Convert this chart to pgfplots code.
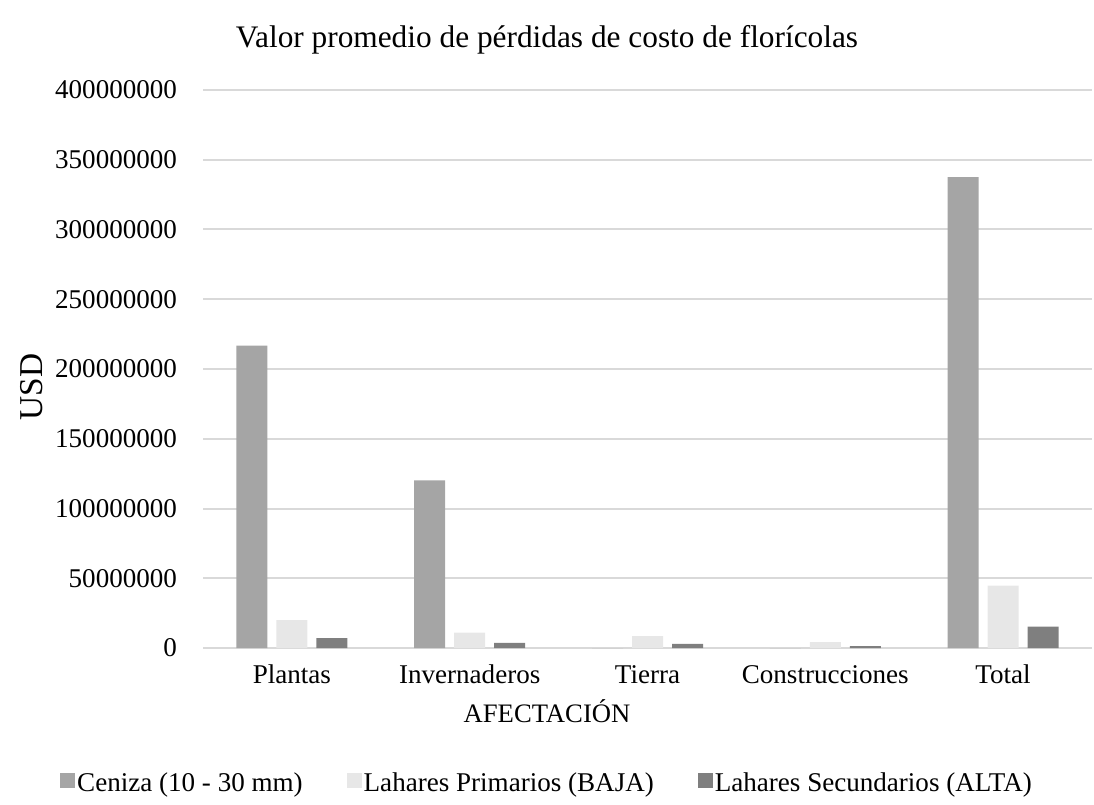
\documentclass[border=0pt]{standalone}
\usepackage{fontspec}
\setmainfont{Liberation Serif}
\usepackage{pgfplots}
\pgfplotsset{compat=1.18}
\definecolor{ceniza}{HTML}{A5A5A5}
\definecolor{primarios}{HTML}{E7E7E7}
\definecolor{secundarios}{HTML}{7F7F7F}
\definecolor{gridc}{HTML}{D9D9D9}
\begin{document}
\begin{tikzpicture}
\useasboundingbox (0,0) rectangle (820.5pt,603pt);
\begin{axis}[
  at={(152.25pt,117pt)}, anchor=south west,
  scale only axis, width=666.75pt, height=418.5pt,
  ybar=6.75pt, bar width=23.25pt,
  xmin=-0.5, xmax=4.5, ymin=0, ymax=400000000,
  xtick={0,1,2,3,4},
  xticklabels={Plantas,Invernaderos,Tierra,Construcciones,Total},
  ytick={0,50000000,100000000,150000000,200000000,250000000,300000000,350000000,400000000},
  scaled y ticks=false,
  /pgf/number format/fixed, /pgf/number format/1000 sep={},
  /pgf/number format/assume math mode=true,
  major tick length=0pt,
  axis line style={draw=none},
  ymajorgrids, grid style={gridc, line width=1.5pt},
  tick label style={font=\fontsize{20.3}{24}\selectfont},
  yticklabel style={xshift=-16pt},
  xticklabel style={anchor=north, text height=14pt, text depth=4pt, yshift=-9pt},
  title={Valor promedio de pérdidas de costo de florícolas},
  title style={font=\fontsize{23.5}{28}\selectfont, at={(0.387,1.0753)}, anchor=center},
  xlabel={AFECTACIÓN},
  xlabel style={font=\fontsize{20}{24}\selectfont, at={(0.387,-0.1129)}, anchor=center},
  ylabel={USD},
  ylabel style={font=\fontsize{25}{28}\selectfont, at={(-0.1924,0.4677)}, anchor=center, rotate=0},
  legend columns=3,
  legend style={draw=none, fill=none, at={(0.387,-0.242)}, anchor=center,
    font=\fontsize{20.3}{24}\selectfont,
    /tikz/every even column/.append style={column sep=31.5pt},
    nodes={inner sep=1.5pt}},
  legend image code/.code={\fill[#1] (0pt,-4pt) rectangle (11.25pt,7.25pt);},
]
\addplot[fill=ceniza, draw=none] coordinates {(0,216700000) (1,120200000) (2,0) (3,0) (4,337500000)};
\addplot[fill=primarios, draw=none] coordinates {(0,20000000) (1,11000000) (2,8600000) (3,4300000) (4,44700000)};
\addplot[fill=secundarios, draw=none] coordinates {(0,7000000) (1,3600000) (2,2900000) (3,1400000) (4,15300000)};
\legend{Ceniza (10 - 30 mm),Lahares Primarios (BAJA),Lahares Secundarios (ALTA)}
\end{axis}
\end{tikzpicture}
\end{document}
